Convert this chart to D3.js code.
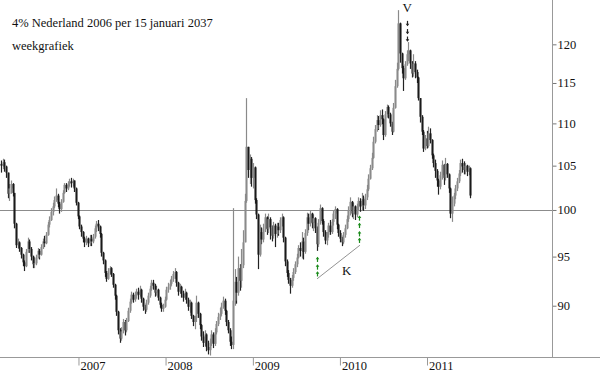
<!DOCTYPE html>
<html><head><meta charset="utf-8">
<script src="https://cdn.jsdelivr.net/npm/d3@7"></script>
<style>
html,body{margin:0;padding:0;background:#fff;}
</style></head>
<body><svg id="c" width="600" height="375"></svg>
<script>
const title = "4% Nederland 2006 per 15 januari 2037";
const subtitle = "weekgrafiek";
const firstWeek = new Date(2006, 1, 6);
const firstOpen = 105.2;
const yearTicks = [2007, 2008, 2009, 2010, 2011];
const priceTicks = [90, 95, 100, 105, 110, 115, 120];
const refLevel = 100;

const close = [
105.0,105.4,104.9,104.2,101.8,102.4,102.9,101.9,98.5,96.2,
96.5,95.9,95.2,94.4,94.0,95.5,96.6,95.8,95.0,94.2,
94.3,94.9,95.6,95.2,96.0,96.6,96.4,97.3,98.4,98.9,
99.8,100.4,101.1,101.6,100.7,100.1,100.9,101.9,102.8,102.4,
102.9,103.2,103.0,103.3,102.4,100.8,99.3,98.2,97.6,96.9,
96.5,96.9,96.4,96.9,96.6,97.1,98.0,98.5,98.2,97.4,
95.4,94.6,93.3,92.7,93.5,93.8,93.2,92.1,91.0,89.4,
87.6,86.8,87.5,88.4,87.6,88.5,89.5,90.4,91.1,90.6,
91.0,91.4,91.1,91.6,90.7,89.9,89.6,90.3,91.0,91.7,
92.3,92.0,91.3,91.6,90.8,90.1,89.7,89.9,90.6,91.6,
91.9,92.2,92.7,93.2,93.4,92.3,91.4,91.9,91.2,90.8,
91.3,90.6,89.9,90.3,89.0,88.4,88.8,90.3,89.2,88.1,
87.0,86.4,87.2,86.0,85.7,86.4,87.2,86.3,87.4,88.2,
88.9,89.2,89.9,90.5,89.5,88.4,87.6,86.5,86.2,90.5,
92.4,91.3,93.8,92.5,94.1,96.5,101.0,107.2,104.5,105.8,
103.6,104.8,101.1,99.5,95.2,97.6,96.8,98.0,99.2,97.9,
99.0,98.1,97.2,98.3,97.4,98.2,97.8,98.9,99.2,97.0,
94.5,93.3,92.6,92.0,92.8,93.4,94.2,94.9,95.9,95.6,
96.6,95.5,97.5,99.2,98.5,99.6,98.6,99.1,98.0,96.3,
98.6,100.2,98.8,97.6,96.7,97.3,98.3,97.6,98.7,99.6,
100.1,98.4,97.5,96.9,96.5,97.3,98.0,99.0,100.0,100.9,
99.6,100.4,99.5,100.3,101.0,100.4,101.2,100.5,101.4,102.3,
103.5,104.7,105.9,107.8,109.3,110.4,109.8,111.0,110.5,108.6,
111.1,112.0,111.1,110.0,109.0,111.9,114.6,116.8,122.8,118.8,
116.9,115.6,117.4,118.7,119.2,117.5,116.2,117.5,116.4,115.7,
113.1,110.8,109.0,107.0,108.2,107.3,108.8,108.0,106.2,105.3,
104.4,103.3,102.6,103.9,105.1,103.6,105.2,104.0,102.4,99.6,
100.7,101.6,102.4,103.2,104.1,105.3,104.9,104.5,105.0,104.3,
104.7,101.6
];
const high = [
105.6,105.8,105.7,105.0,104.0,102.9,103.3,103.0,101.9,98.6,
96.9,96.6,96.0,95.3,94.6,95.8,97.0,96.8,96.0,95.1,
94.9,95.2,95.9,95.8,96.3,96.9,97.2,97.6,98.7,99.3,
100.2,100.8,101.5,102.4,101.8,100.9,101.2,102.2,103.0,103.0,
103.2,103.5,103.6,103.5,103.3,102.5,100.9,99.4,98.4,97.7,
97.1,97.2,97.0,97.3,97.3,97.4,98.3,98.8,98.9,98.3,
97.5,95.5,94.7,93.5,93.8,94.0,93.9,93.3,92.2,91.1,
89.5,87.8,87.9,88.7,88.6,88.8,89.8,90.7,91.4,91.3,
91.4,91.7,91.8,92.0,91.7,90.8,90.1,90.6,91.3,92.0,
92.6,92.6,92.2,92.0,91.7,90.9,90.3,90.2,90.9,91.9,
92.3,92.6,93.0,93.5,93.8,93.5,92.4,92.2,92.0,91.5,
91.7,91.4,90.8,90.6,90.4,89.1,89.0,91.0,90.4,89.3,
88.2,87.5,87.6,87.3,86.6,86.8,87.6,87.4,87.8,88.5,
89.3,89.8,90.3,90.9,90.7,89.6,88.6,87.8,87.0,100.2,
93.7,92.9,95.0,94.2,95.8,97.8,101.8,113.1,107.0,106.3,
106.0,105.3,104.9,101.3,99.6,98.4,98.1,98.5,99.6,99.3,
99.6,99.2,98.3,98.7,98.5,98.6,98.6,99.2,99.6,99.3,
97.1,94.7,93.6,92.8,93.1,93.8,94.5,95.3,96.2,96.5,
97.6,97.0,97.9,99.7,99.6,100.0,99.7,99.5,99.2,98.2,
99.0,100.6,100.3,99.0,97.8,97.6,98.6,98.9,99.0,99.9,
100.4,100.2,98.5,97.8,97.1,97.6,98.4,99.4,100.4,101.4,
101.0,100.8,100.5,100.7,101.4,101.3,101.9,101.6,101.8,102.8,
104.0,105.1,106.5,108.4,109.8,111.0,110.9,111.6,111.7,110.6,
111.5,112.3,112.2,111.3,110.2,112.5,115.4,117.6,124.6,122.9,
118.9,117.2,117.8,119.2,120.3,119.3,117.8,118.7,117.8,116.7,
115.8,113.1,111.0,109.2,108.6,109.1,109.6,109.4,108.1,106.4,
105.7,104.6,103.5,104.3,105.6,105.2,105.9,105.3,104.1,102.5,
101.5,101.9,102.8,103.6,104.5,105.7,105.8,105.5,105.3,105.1,
105.0,104.8
];
const low = [
104.2,104.6,104.3,103.6,101.3,101.0,101.8,101.5,98.0,95.9,
95.8,95.5,94.8,94.0,93.5,93.9,95.4,95.4,94.6,93.8,
93.8,94.1,94.8,94.7,95.1,95.8,96.0,96.3,97.2,98.1,
98.8,99.4,100.2,100.9,100.3,99.6,99.8,100.8,101.8,102.0,
102.2,102.6,102.5,102.6,102.0,100.5,99.0,97.9,97.1,96.5,
96.0,96.2,96.0,96.1,96.1,96.4,96.9,97.6,97.7,97.0,
95.0,94.2,92.9,92.4,92.6,93.1,92.9,91.8,90.6,89.0,
87.2,86.4,86.6,87.3,87.1,87.4,88.4,89.3,90.2,90.3,
90.4,90.7,90.6,90.9,90.3,89.5,89.2,89.4,90.1,90.8,
91.5,91.6,90.9,91.0,90.5,89.8,89.4,89.4,89.8,90.5,
91.3,91.6,92.0,92.4,92.7,91.9,91.0,91.2,90.8,90.4,
90.6,90.2,89.5,89.3,88.7,88.0,87.7,88.4,88.8,87.7,
86.6,86.0,86.1,85.6,85.3,85.2,86.1,85.9,86.1,87.2,
88.0,88.6,89.0,89.7,89.1,88.0,87.3,86.1,85.8,85.8,
90.0,90.2,91.0,91.5,91.8,93.8,96.8,100.8,103.6,102.9,
102.6,102.4,100.7,99.0,93.7,95.0,96.3,96.5,97.6,97.3,
97.5,96.8,96.6,96.9,96.0,97.0,97.2,97.5,98.2,96.5,
94.0,92.9,92.2,91.2,91.8,92.5,93.2,93.9,94.8,95.0,
94.8,94.7,95.3,97.2,97.8,98.2,98.0,97.7,97.5,95.6,
96.0,98.4,98.4,97.1,96.3,96.2,97.0,97.3,97.4,98.3,
99.0,97.9,97.1,96.5,96.1,96.3,97.0,97.9,98.7,99.4,
99.2,99.0,98.9,99.2,99.9,99.8,100.0,99.9,100.1,101.1,
102.1,103.4,104.5,105.8,107.6,109.0,109.2,109.6,109.9,108.0,
108.4,110.7,110.6,109.6,108.6,108.9,111.8,114.4,116.6,117.6,
116.2,114.0,115.4,117.2,117.8,116.8,115.7,115.8,115.6,115.0,
112.8,110.1,108.6,106.6,106.8,107.0,107.1,107.6,105.8,104.8,
103.6,102.6,101.7,102.3,103.4,102.8,103.3,103.6,101.9,99.1,
98.7,100.4,101.2,102.1,103.0,103.8,104.2,104.0,104.0,103.8,
103.9,101.3
];

// annotations (date, price)
const kLine = [[new Date(2009, 8, 27), 92.7], [new Date(2010, 2, 26), 96.2]];
const kLabel = [new Date(2010, 0, 10), 93.1, "K"];
const greenLeft = [new Date(2009, 8, 27), [94.7, 93.9, 93.2]];
const greenRight = [new Date(2010, 2, 22), [99.1, 98.3, 97.4, 96.7]];
const blackDown = [new Date(2010, 9, 10), [122.8, 121.7, 120.7]];
const vLabel = [new Date(2010, 9, 10), 124.4, "V"];

const SERIF = "Liberation Serif";

const data = close.map((c, i) => ({
  date: d3.timeDay.offset(firstWeek, 7 * i),
  open: i === 0 ? firstOpen : close[i - 1],
  close: c, high: high[i], low: low[i]
}));

const svg = d3.select("#c");
const W = 600, plotR = 552, plotB = 357;
const x = d3.scaleTime().domain([new Date(2006, 1, 6), new Date(2012, 5, 8)]).range([0, plotR]);
const y = d3.scaleLog().domain([85.06, 126.0]).range([plotB, 0]);

function serifText(sel, size) {
  return sel.style("font-family", SERIF).style("font-size", size + "px").attr("fill", "#111");
}

// reference line at 100
svg.append("line").attr("x1", 0).attr("x2", plotR)
  .attr("y1", Math.round(y(refLevel)) + 0.5).attr("y2", Math.round(y(refLevel)) + 0.5)
  .attr("stroke", "#8c8c8c").attr("stroke-width", 1);

// candles
const g = svg.append("g");
const cx = d => Math.round(x(d.date)) + 1.5;
g.selectAll("line.w").data(data).join("line").attr("class", "w")
  .attr("x1", cx).attr("x2", cx)
  .attr("y1", d => y(Math.max(d.high, d.open, d.close)))
  .attr("y2", d => y(Math.min(d.low, d.open, d.close)))
  .attr("stroke", d => d.close >= d.open ? "#8a8a8a" : "#222")
  .attr("stroke-width", 1.2);
g.selectAll("rect.b").data(data).join("rect").attr("class", "b")
  .attr("x", d => cx(d) - 1).attr("width", 2)
  .attr("y", d => y(Math.max(d.open, d.close)))
  .attr("height", d => Math.max(0.8, y(Math.min(d.open, d.close)) - y(Math.max(d.open, d.close))))
  .attr("fill", d => d.close >= d.open ? "#8a8a8a" : "#1a1a1a");

// right axis
const ya = svg.append("g").attr("transform", `translate(${plotR + 0.5},0)`)
  .call(d3.axisRight(y).tickValues(priceTicks).tickFormat(d3.format("d")).tickSizeInner(4).tickSizeOuter(0).tickPadding(1));
ya.attr("font-family", null);
ya.select(".domain").remove();
ya.selectAll(".tick line").attr("stroke", "#777");
serifText(ya.selectAll(".tick text"), 12.5);
svg.append("line").attr("x1", plotR + 0.5).attr("x2", plotR + 0.5).attr("y1", 0).attr("y2", plotB)
  .attr("stroke", "#999").attr("stroke-width", 1);

// bottom axis
const xa = svg.append("g").attr("transform", `translate(0,${plotB + 0.5})`)
  .call(d3.axisBottom(x).tickValues(yearTicks.map(v => new Date(v, 0, 1))).tickFormat(d3.timeFormat("%Y")).tickSizeInner(8).tickSizeOuter(0));
xa.attr("font-family", null);
xa.select(".domain").remove();
xa.selectAll(".tick line").attr("stroke", "#999");
serifText(xa.selectAll(".tick text"), 12.5)
  .attr("text-anchor", "start").attr("x", 1.5).attr("y", 4);
svg.append("line").attr("x1", 0).attr("x2", W).attr("y1", plotB + 0.5).attr("y2", plotB + 0.5)
  .attr("stroke", "#999").attr("stroke-width", 1);

// titles
serifText(svg.append("text").attr("x", 12).attr("y", 27), 12.5).text(title);
serifText(svg.append("text").attr("x", 12).attr("y", 50), 12.5).text(subtitle);

// K line and labels
svg.append("line")
  .attr("x1", x(kLine[0][0])).attr("y1", y(kLine[0][1]))
  .attr("x2", x(kLine[1][0])).attr("y2", y(kLine[1][1]))
  .attr("stroke", "#777").attr("stroke-width", 0.8);
serifText(svg.append("text").attr("x", x(kLabel[0])).attr("y", y(kLabel[1])), 13).text(kLabel[2]);
serifText(svg.append("text").attr("x", x(vLabel[0])).attr("y", y(vLabel[1])), 13)
  .attr("text-anchor", "middle").text(vLabel[2]);

// small stacked arrows
function arrows(spec, up, color) {
  const ax = Math.round(x(spec[0])) + 0.5;
  spec[1].forEach(p => {
    const ay = y(p);
    const dir = up ? -1 : 1;
    svg.append("line").attr("x1", ax).attr("x2", ax).attr("y1", ay - 2.5 * dir).attr("y2", ay + 2 * dir)
      .attr("stroke", color).attr("stroke-width", 1.2);
    svg.append("path")
      .attr("d", `M${ax - 1.8},${ay + 0.3 * dir} L${ax},${ay + 2.8 * dir} L${ax + 1.8},${ay + 0.3 * dir}Z`)
      .attr("fill", color);
  });
}
arrows(greenLeft, true, "#1a8a1a");
arrows(greenRight, true, "#1a8a1a");
arrows(blackDown, false, "#222");
</script></body></html>
